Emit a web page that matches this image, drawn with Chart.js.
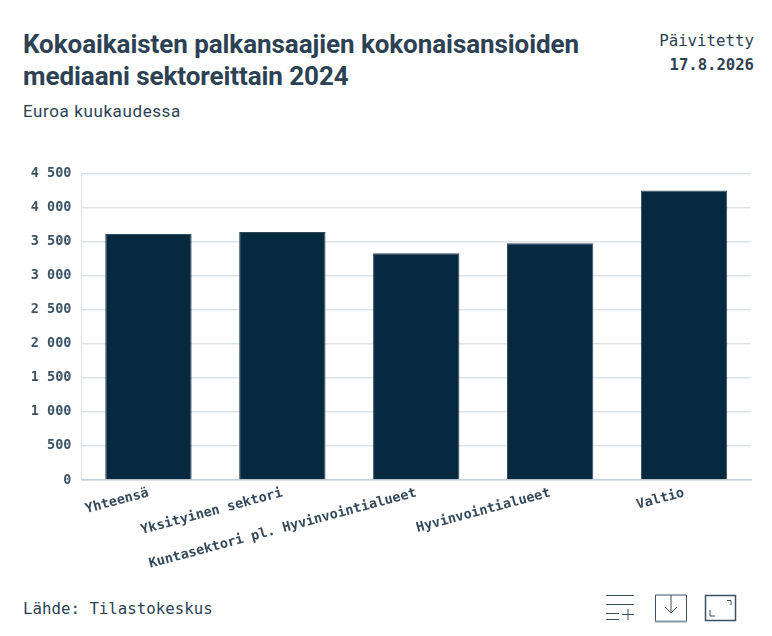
<!DOCTYPE html>
<html lang="fi"><head><meta charset="utf-8">
<script src="https://cdn.jsdelivr.net/npm/chart.js@4"></script>
<style>
html,body{margin:0;padding:0;background:#fff;width:772px;height:636px;overflow:hidden}
.t{position:absolute;white-space:nowrap;color:#2c4254}
#title{left:23px;top:28px;font:700 26px/32px Roboto,"Noto Sans",sans-serif;color:#2c4254;letter-spacing:-.07px}
#sub{left:23px;top:101px;font:400 17px/21px Roboto,"Noto Sans",sans-serif;letter-spacing:.6px}
#upd{right:18px;top:32px;font:400 15.75px/18px "DejaVu Sans Mono",monospace;text-align:right}
#date{right:18px;top:56px;font:700 15.6px/18px "DejaVu Sans Mono",monospace;text-align:right}
#src{left:23px;top:600px;font:400 15.75px/18px "DejaVu Sans Mono",monospace}
canvas{position:absolute;left:0;top:150px}
svg{position:absolute;left:600px;top:590px}
</style></head><body>
<div class="t" id="title">Kokoaikaisten palkansaajien kokonaisansioiden<br>mediaani sektoreittain 2024</div>
<div class="t" id="sub">Euroa kuukaudessa</div>
<div class="t" id="upd">Päivitetty</div>
<div class="t" id="date">17.8.2026</div>
<div class="t" id="src">Lähde: Tilastokeskus</div>
<canvas id="c" width="772" height="430"></canvas>
<svg width="145" height="36" fill="none" stroke="#3a5163" stroke-width="1">
<path d="M6 5.5H34M6 14.5H34M6 23.5H19M6 29.5H19M22 24.5H34M28 19V30"/>
<path d="M55.5 5V31.5H86.5V5H55.5M71 5V23M65 17L71 23L77 17"/><path d="M55 31.5H87" stroke="#8b99a4" stroke-width="2"/>
<path d="M105.5 5.5H135.5V30.5H105.5Z" stroke-width="1.5"/><path d="M127 10.5H131V15M110 20V26H115"/>
</svg>
<script>
const categories=["Yhteensä","Yksityinen sektori","Kuntasektori pl. Hyvinvointialueet","Hyvinvointialueet","Valtio"];
const values=[3612,3641,3330,3476,4250];
const yMax=4500, yStep=500;
new Chart(document.getElementById('c'),{
 type:'bar',
 data:{labels:categories,datasets:[{data:values,backgroundColor:'#06293f',borderColor:'#2f4a5d',borderWidth:{top:1,left:1,right:1,bottom:0},categoryPercentage:.645,barPercentage:1}]},
 options:{responsive:false,animation:false,devicePixelRatio:1,
  layout:{padding:{left:0,right:21,top:23.5,bottom:0}},
  plugins:{legend:{display:false},tooltip:{enabled:false}},
  scales:{
   y:{min:0,max:yMax,afterFit(s){s.width=81.5},
    ticks:{stepSize:yStep,padding:10,color:'#3d5466',font:{family:'"DejaVu Sans Mono",monospace',size:13.5,weight:'bold'},callback:v=>String(v).replace(/\B(?=(\d{3})+$)/g,' ')},
    grid:{color:'#dfe4e8',lineWidth:1.5,drawTicks:false},border:{color:'#dfe4e8',width:1}},
   x:{afterFit(s){s.height=100},
    ticks:{minRotation:15,maxRotation:15,autoSkip:false,padding:5,color:'#34495a',font:{family:'"DejaVu Sans Mono",monospace',size:13.5,weight:'bold'}},
    grid:{display:false,drawTicks:false},border:{color:'#c3ced6',width:1.5}}
  }}
});
</script></body></html>
